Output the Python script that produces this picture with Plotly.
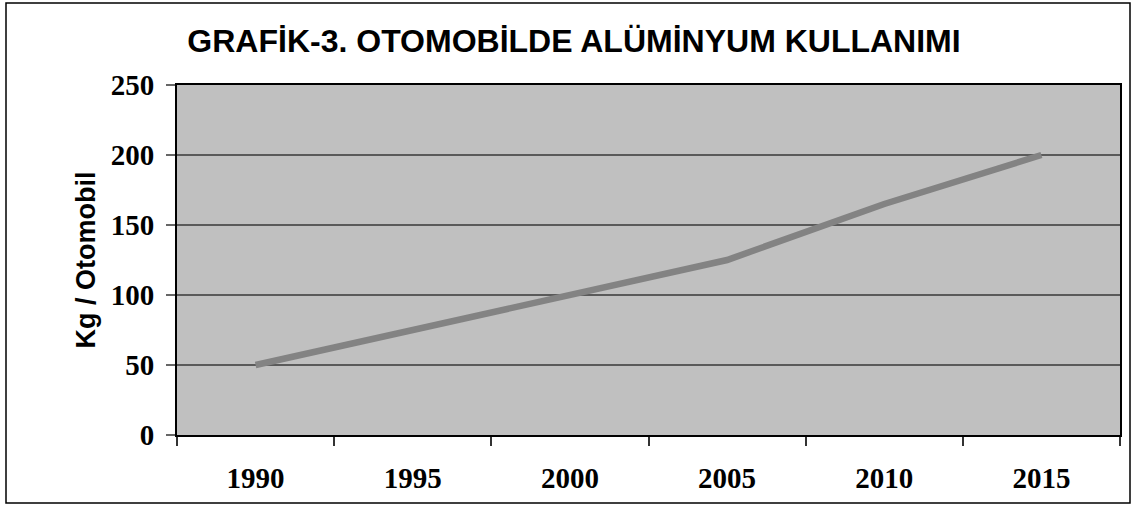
import plotly.graph_objects as go

years = ["1990", "1995", "2000", "2005", "2010", "2015"]
kg_per_car = [50, 75, 100, 125, 165, 200]

W, H = 1135, 506
L, R, T, B = 177, 15, 85, 71

fig = go.Figure(
    go.Scatter(
        x=years,
        y=kg_per_car,
        mode="lines",
        line=dict(color="#838383", width=6.5),
        hoverinfo="x+y",
    )
)


def px_x(p):
    return (p - L) / (W - L - R)


def px_y(p):
    return (H - B - p) / (H - T - B)


fig.update_layout(
    width=W,
    height=H,
    margin=dict(l=L, r=R, t=T, b=B, autoexpand=False),
    paper_bgcolor="white",
    plot_bgcolor="#C0C0C0",
    showlegend=False,
    title=dict(
        text="GRAFİK-3. OTOMOBİLDE ALÜMİNYUM KULLANIMI",
        font=dict(family="Liberation Sans, Arial", size=32, color="black", weight="bold"),
        x=574 / W,
        xanchor="center",
        y=1 - 41 / H,
        yanchor="middle",
    ),
    shapes=[
        dict(
            type="rect", xref="paper", yref="paper",
            x0=px_x(6), x1=px_x(1130), y0=px_y(503), y1=px_y(3),
            line=dict(color="black", width=1.5), layer="below",
        )
    ],
)

fig.update_xaxes(
    type="category",
    range=[-0.5, len(years) - 0.5],
    automargin=False,
    tickson="boundaries",
    ticks="outside",
    ticklen=9,
    tickcolor="#333",
    tickwidth=1.5,
    showline=True,
    linecolor="black",
    linewidth=2,
    mirror=True,
    showgrid=False,
    ticklabelstandoff=16,
    tickfont=dict(family="Liberation Serif, Times New Roman", size=29, color="black", weight="bold"),
)

fig.update_yaxes(
    range=[0, 250],
    dtick=50,
    automargin=False,
    ticks="outside",
    ticklen=9,
    tickcolor="#666",
    tickwidth=1.5,
    showline=True,
    linecolor="black",
    linewidth=2,
    mirror=True,
    showgrid=True,
    gridcolor="#5a5a5a",
    gridwidth=1.5,
    zeroline=False,
    ticklabelstandoff=6,
    tickfont=dict(family="Liberation Serif, Times New Roman", size=29, color="black", weight="bold"),
    title=dict(
        text="Kg / Otomobil",
        font=dict(family="Liberation Sans, Arial", size=27, color="black", weight="bold"),
        standoff=7,
    ),
)

# drop the default 8px page margin so the chart sits at the window origin
fig.write_html(
    "out.html",
    config={"displayModeBar": False},
    post_script="document.body.style.margin = '0';",
)
